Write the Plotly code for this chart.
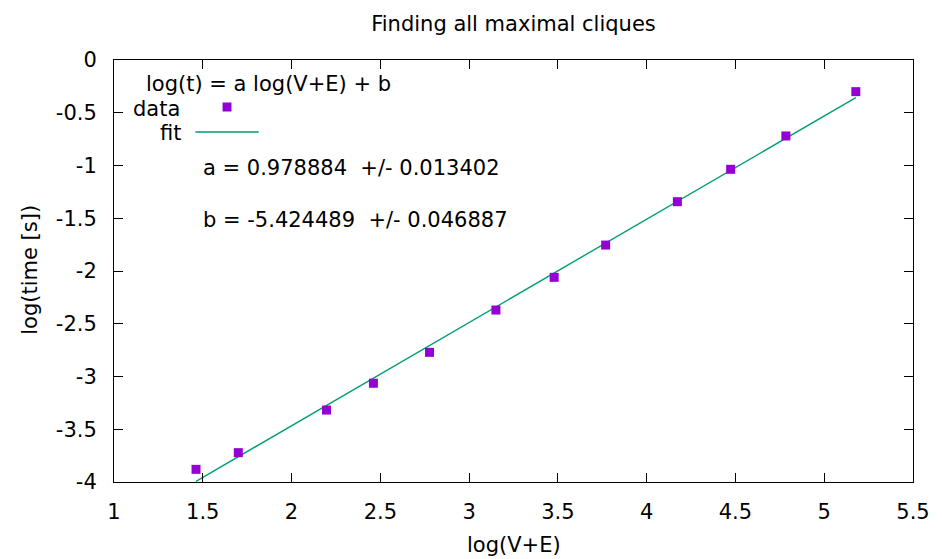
import plotly.graph_objects as go

# ---- data ----
log_size = [1.462, 1.700, 2.197, 2.461, 2.777, 3.151, 3.479, 3.769, 4.173, 4.473, 4.784, 5.178]
log_time = [-3.880, -3.722, -3.318, -3.064, -2.771, -2.370, -2.060, -1.754, -1.343, -1.036, -0.720, -0.300]
fit_a = 0.978884
fit_a_err = 0.013402
fit_b = -5.424489
fit_b_err = 0.046887
x_tick_vals = [1, 1.5, 2, 2.5, 3, 3.5, 4, 4.5, 5, 5.5]
x_tick_text = ["1", "1.5", "2", "2.5", "3", "3.5", "4", "4.5", "5", "5.5"]
y_tick_vals = [0, -0.5, -1, -1.5, -2, -2.5, -3, -3.5, -4]
y_tick_text = ["0", "-0.5", "-1", "-1.5", "-2", "-2.5", "-3", "-3.5", "-4"]

W, H = 942, 559
L, R, T, B = 114, 920, 60, 482
FONT = "DejaVu Sans"
FS = 21
PURPLE = "#9400D3"
GREEN = "#009E73"


def px(x):
    return (x - L) / (R - L)


def py(y):
    return (B - y) / (B - T)


fit_x = [min(log_size), max(log_size)]
fit_y = [fit_a * v + fit_b for v in fit_x]

fig = go.Figure()
fig.add_trace(go.Scatter(x=fit_x, y=fit_y, mode="lines",
                         line=dict(color=GREEN, width=1.4), name="fit"))
fig.add_trace(go.Scatter(x=log_size, y=log_time, mode="markers",
                         marker=dict(symbol="square", size=9, color=PURPLE,
                                     line=dict(width=0)), name="data"))

axis_common = dict(showgrid=False, zeroline=False, showline=True, linecolor="black",
                   linewidth=1, mirror="allticks", ticks="inside", ticklen=9,
                   tickwidth=1, tickcolor="black",
                   tickfont=dict(family=FONT, size=FS, color="black"))
fig.update_xaxes(range=[1, 5.5], tickvals=x_tick_vals, ticktext=x_tick_text,
                 ticklabelstandoff=11, **axis_common)
fig.update_yaxes(range=[-4, 0], tickvals=y_tick_vals, ticktext=y_tick_text,
                 ticklabelstandoff=12, **axis_common)

tf = dict(family=FONT, size=FS, color="black")
ann = []
# axis titles
ann.append(dict(text="log(V+E)", x=px(517), y=py(545), xref="paper", yref="paper",
                xanchor="center", yanchor="middle", showarrow=False, font=tf))
ann.append(dict(text="log(time [s])", x=px(29), y=py(270), xref="paper", yref="paper",
                xanchor="center", yanchor="middle", showarrow=False, textangle=-90, font=tf))
# key
ann.append(dict(text="log(t) = a log(V+E) + b", x=px(395), y=py(84), xref="paper", yref="paper",
                xanchor="right", yanchor="middle", showarrow=False, font=tf))
ann.append(dict(text="data", x=px(183), y=py(109), xref="paper", yref="paper",
                xanchor="right", yanchor="middle", showarrow=False, font=tf))
ann.append(dict(text="fit", x=px(184), y=py(133), xref="paper", yref="paper",
                xanchor="right", yanchor="middle", showarrow=False, font=tf))
# fit parameters
ann.append(dict(text=f"a = {fit_a:.6f} \u00a0+/- {fit_a_err:.6f}", x=px(202), y=py(168),
                xref="paper", yref="paper", xanchor="left", yanchor="middle", showarrow=False,
                font=tf))
ann.append(dict(text=f"b = {fit_b:.6f} \u00a0+/- {fit_b_err:.6f}", x=px(202), y=py(220),
                xref="paper", yref="paper", xanchor="left", yanchor="middle", showarrow=False,
                font=tf))

shapes = [
    dict(type="rect", xref="paper", yref="paper",
         x0=px(223.5), x1=px(232.5), y0=py(111.5), y1=py(102.5),
         fillcolor=PURPLE, line=dict(width=0)),
    dict(type="line", xref="paper", yref="paper",
         x0=px(196), x1=px(260), y0=py(132), y1=py(132),
         line=dict(color=GREEN, width=1.4)),
]

fig.update_layout(
    width=W, height=H,
    margin=dict(l=L, r=W - R, t=T, b=H - B, pad=0),
    paper_bgcolor="white", plot_bgcolor="white",
    showlegend=False,
    title=dict(text="Finding all maximal cliques", x=px(517), xref="paper",
               y=1 - 24 / H, yref="container", xanchor="center", yanchor="middle",
               font=tf),
    annotations=ann, shapes=shapes,
)

fig.write_html("out.html")
